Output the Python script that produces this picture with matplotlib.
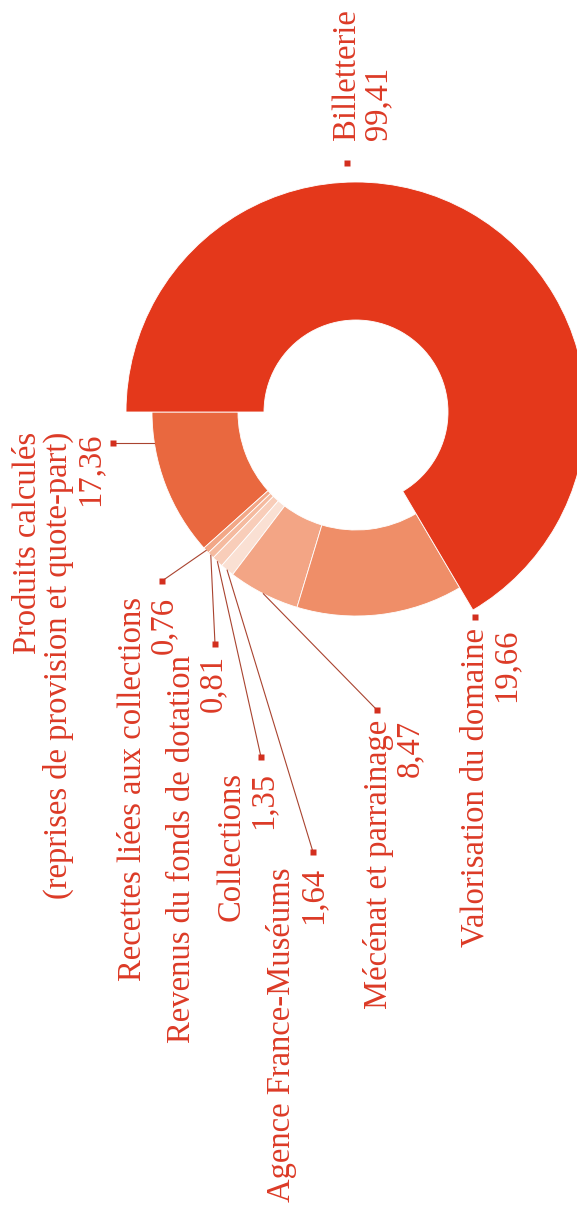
import numpy as np
import matplotlib.pyplot as plt

# Recettes propres (M€), in drawing order around the ring
categories = ['Produits calculés', 'Recettes liées aux collections',
              'Revenus du fonds de dotation', 'Collections',
              'Agence France-Muséums', 'Mécénat et parrainage',
              'Valorisation du domaine', 'Billetterie']
values = [17.36, 0.76, 0.81, 1.35, 1.64, 8.47, 19.66, 99.41]
label_lines = [['Produits calculés', '(reprises de provision et quote-part)'],
               ['Recettes liées aux collections'],
               ['Revenus du fonds de dotation'],
               ['Collections'],
               ['Agence France-Muséums'],
               ['Mécénat et parrainage'],
               ['Valorisation du domaine'],
               ['Billetterie']]
colors = ['#E9683F', '#F2A787', '#F5BA9F', '#F8CDB9', '#FAE0D3',
          '#F3A585', '#EF8E68', '#E4381B']

TEXT = '#DC3A26'
MARK = '#D32F1E'
LEAD = '#A9432F'
FONT = 'Liberation Serif'

W, H = 577, 1213
cx, cy = 356, 412
r_out, r_in = 204, 118
big_out, big_in = 230, 92

# label layout: marker (x, y), first baseline x, text anchor y, alignment, leader
layout = {
    'Produits calculés': ((113, 443), 36, 432, 'right', 'horiz'),
    'Recettes liées aux collections': ((162, 581), 141, 597, 'right', 'mid'),
    'Revenus du fonds de dotation': ((215, 644), 190, 655, 'right', 'mid'),
    'Collections': ((261, 757), 240, 772, 'right', 'mid'),
    'Agence France-Muséums': ((313, 852), 290, 867, 'right', 'mid'),
    'Mécénat et parrainage': ((377, 710), 387, 720, 'right', 'mid'),
    'Valorisation du domaine': ((475, 617), 483, 628, 'right', None),
    'Billetterie': ((347, 163), 355, 140, 'left', None),
}
line_gap = 31

fig = plt.figure(figsize=(W / 100, H / 100), dpi=100)
ax = fig.add_axes([0, 0, 1, 1])

wedges, _ = ax.pie(values, colors=colors, startangle=180, counterclock=False,
                   radius=r_out, center=(cx, cy),
                   wedgeprops=dict(width=r_out - r_in, edgecolor='white',
                                   linewidth=0.6))
# the ticket office slice is drawn on a wider ring
wedges[-1].set_radius(big_out)
wedges[-1].set_width(big_out - big_in)

ax.set_xlim(0, W)
ax.set_ylim(H, 0)
ax.set_aspect('equal')
ax.axis('off')

for name, val, lines, wedge in zip(categories, values, label_lines, wedges):
    (mx, my), base_x, ty, align, leader = layout[name]
    if leader == 'mid':
        ang = np.deg2rad((wedge.theta1 + wedge.theta2) / 2)
        ex, ey = cx + r_out * np.cos(ang), cy + r_out * np.sin(ang)
        ax.plot([ex, mx], [ey, my], color=LEAD, lw=0.8, zorder=3)
    elif leader == 'horiz':
        ex = cx - np.sqrt(r_out ** 2 - (my - cy) ** 2)
        ax.plot([ex, mx], [my, my], color=LEAD, lw=0.8, zorder=3)
    ax.plot(mx, my, marker='s', ms=4.3, color=MARK, mec='none', zorder=4)

    all_lines = lines + [f'{val:.2f}'.replace('.', ',')]
    for i, txt in enumerate(all_lines):
        ax.text(base_x + i * line_gap, ty, txt, rotation=90,
                rotation_mode='anchor', ha=align, va='baseline',
                color=TEXT, fontsize=23.5, family=FONT)

fig.savefig('out.png', dpi=100)
